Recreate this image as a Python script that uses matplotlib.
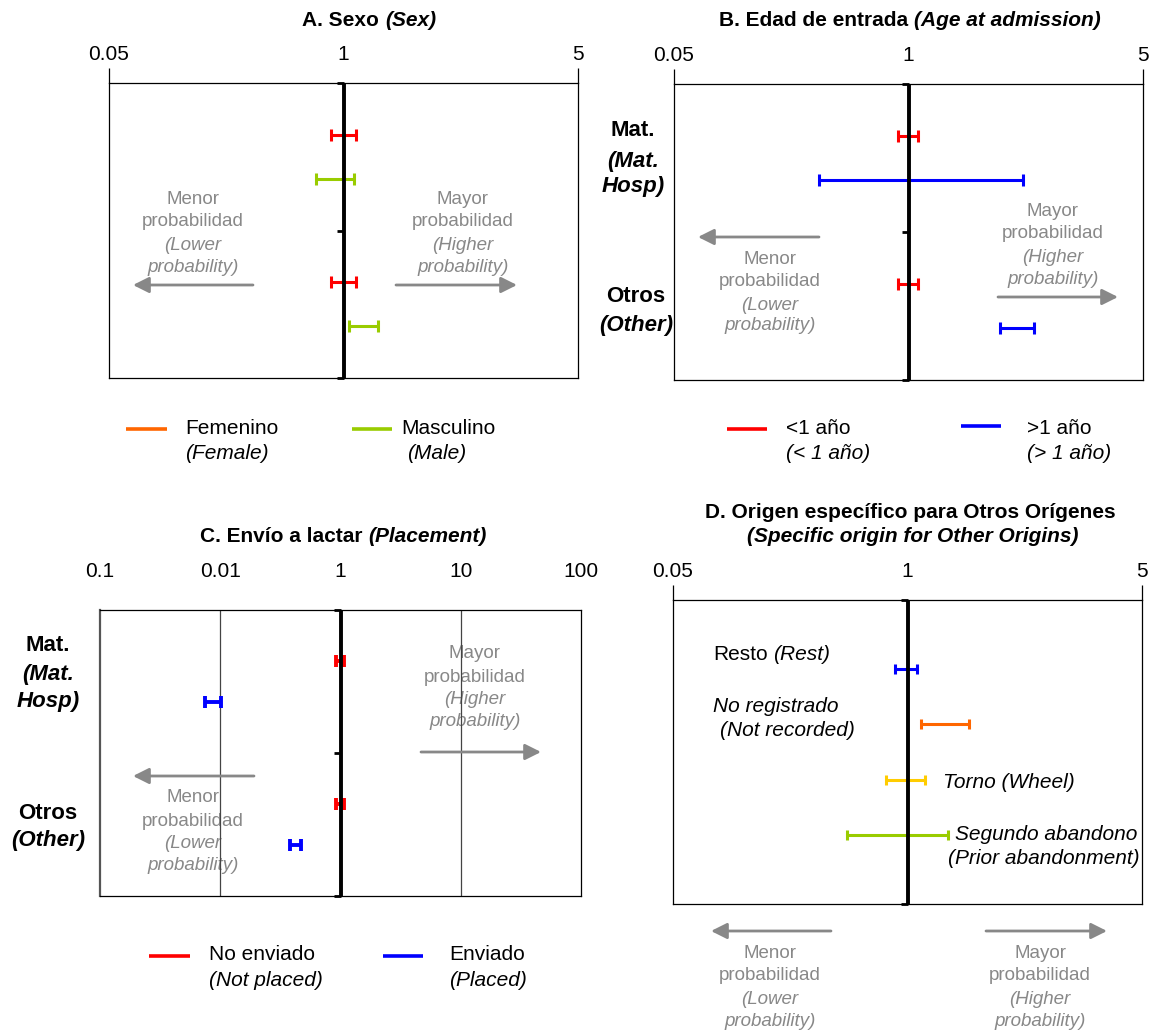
import numpy as np
import matplotlib
matplotlib.use('Agg')
import matplotlib.pyplot as plt
from matplotlib.lines import Line2D
from matplotlib.patches import FancyArrowPatch

plt.rcParams['font.family'] = ['Liberation Sans', 'DejaVu Sans']

# ---- data (odds ratio and 95% CI) ----
# A. Sexo: rows Mat. / Otros
fem_y = [0.35, 1.35]
fem_lo = [0.92, 0.92]
fem_or = [1.00, 1.00]
fem_hi = [1.09, 1.09]
masc_y = [0.65, 1.65]
masc_lo = [0.83, 1.04]
masc_or = [0.95, 1.14]
masc_hi = [1.075, 1.27]

# B. Edad de entrada
lt1_y = [0.35, 1.35]
lt1_lo = [0.93, 0.93]
lt1_or = [1.00, 1.00]
lt1_hi = [1.07, 1.07]
gt1_y = [0.65, 1.65]
gt1_lo = [0.54, 1.87]
gt1_or = [1.09, 2.11]
gt1_hi = [2.19, 2.37]

# C. Envio a lactar
noenv_y = [0.36, 1.36]
noenv_lo = [0.91, 0.91]
noenv_or = [0.98, 0.98]
noenv_hi = [1.06, 1.06]
env_y = [0.64, 1.64]
env_lo = [0.075, 0.38]
env_or = [0.088, 0.43]
env_hi = [0.102, 0.47]

# D. Origen especifico
orig_y = [1.25, 2.25, 3.25, 4.25]
orig_lo = [0.92, 1.10, 0.86, 0.66]
orig_or = [0.99, 1.30, 0.985, 0.93]
orig_hi = [1.07, 1.53, 1.13, 1.32]
orig_col = ['#0000ff', '#ff6600', '#ffcc00', '#99cc00']

# axis ticks / labels as printed on the chart
ticks_abd = [0.2, 1, 5]
labels_abd = ['0.05', '1', '5']
ticks_c = [0.01, 0.1, 1, 10, 100]
labels_c = ['0.1', '0.01', '1', '10', '100']
grid_c = [0.1, 10]

GRAY = '#888888'
W, H = 1149, 1030

fig = plt.figure(figsize=(W / 100, H / 100), dpi=100)
rend = fig.canvas.get_renderer()


def fx(x):
    return x / W


def fy(y):
    return 1 - y / H


def box(x0, y0, x1, y1):
    return [fx(x0), fy(y1), (x1 - x0) / W, (y1 - y0) / H]


def setup(ax, xlim, ticks, labels, ylim, tlen, pad, ymarks, hide_mid=True):
    ax.set_xscale('log')
    ax.set_xlim(xlim)
    ax.set_ylim(ylim)
    ax.xaxis.tick_top()
    ax.set_xticks(ticks)
    ax.set_xticklabels(labels)
    ax.minorticks_off()
    ax.tick_params(axis='x', length=tlen, width=0.9, pad=pad, labelsize=15,
                   direction='out')
    ax.set_yticks([])
    for sp in ax.spines.values():
        sp.set_linewidth(0.9)
    if hide_mid:
        ax.xaxis.get_major_ticks()[1].tick2line.set_visible(False)
    ax.axvline(1, color='black', lw=2.8, zorder=3)
    ax.plot([1] * len(ymarks), ymarks, ls='none', marker=0, ms=5, mew=2,
            color='black', zorder=3, clip_on=False)


def ci(ax, y, lo, c, hi, color, lw=2.2, cap=4):
    lo, c, hi = np.asarray(lo), np.asarray(c), np.asarray(hi)
    ax.errorbar(c, y, xerr=[c - lo, hi - c], fmt='none', ecolor=color,
                elinewidth=lw, capsize=cap, capthick=lw, zorder=2)


def stack(x, ys, items, target=None, color=GRAY, size=13.5, ha='center',
          weight='normal'):
    tgt = fig if target is None else target
    for y, (s, st) in zip(ys, items):
        tgt.text(fx(x), fy(y), s, transform=fig.transFigure, ha=ha,
                 va='center_baseline', fontsize=size, style=st, color=color,
                 weight=weight, zorder=1.5)


def mixed(x, y, parts, size=15, weight='normal', ha='center', color='black'):
    gap = 0.278 * size * 100 / 72
    txts, ws = [], []
    for s, st in parts:
        t = fig.text(0, fy(y), s, fontsize=size, style=st, weight=weight,
                     color=color, ha='left', va='center_baseline')
        ws.append(t.get_window_extent(rend).width)
        txts.append(t)
    total = sum(ws) + gap * (len(parts) - 1)
    x0 = x - total / 2 if ha == 'center' else x
    for t, w in zip(txts, ws):
        t.set_x(fx(x0))
        x0 += w + gap


def arrow(x0, y0, x1, y1):
    fig.add_artist(FancyArrowPatch((fx(x0), fy(y0)), (fx(x1), fy(y1)),
                                   transform=fig.transFigure,
                                   arrowstyle='-|>,head_length=0.8,head_width=0.4',
                                   mutation_scale=12, lw=2, color=GRAY,
                                   shrinkA=0, shrinkB=0))


def key(x0, x1, y, color):
    fig.add_artist(Line2D([fx(x0), fx(x1)], [fy(y), fy(y)],
                          transform=fig.transFigure, color=color, lw=2.6,
                          solid_capstyle='butt'))


menor = [('Menor', 'normal'), ('probabilidad', 'normal'),
         ('(Lower', 'italic'), ('probability)', 'italic')]
mayor = [('Mayor', 'normal'), ('probabilidad', 'normal'),
         ('(Higher', 'italic'), ('probability)', 'italic')]
mat_lab = [('Mat.', 'normal'), ('(Mat.', 'italic'), ('Hosp)', 'italic')]
otr_lab = [('Otros', 'normal'), ('(Other)', 'italic')]

# ---- A ----
axA = fig.add_axes(box(109, 83, 578, 378))
setup(axA, (0.2, 5), ticks_abd, labels_abd, (2, 0), 10.5, 3, [0, 1, 2])
ci(axA, fem_y, fem_lo, fem_or, fem_hi, '#ff0000')
ci(axA, masc_y, masc_lo, masc_or, masc_hi, '#99cc00')
mixed(369, 19, [('A. Sexo', 'normal'), ('(Sex)', 'italic')], weight='bold')
stack(193, [197, 220, 243, 265], menor)
stack(463, [197, 220, 243, 265], mayor)
arrow(253, 285, 133, 285)
arrow(396, 285, 517, 285)
key(126, 167, 429, '#ff6600')
stack(185, [426, 451], [('Femenino', 'normal'), ('(Female)', 'italic')],
      color='black', size=15, ha='left')
key(352, 392, 429, '#99cc00')
stack(401, [426], [('Masculino', 'normal')], color='black', size=15, ha='left')
stack(407, [451], [('(Male)', 'italic')], color='black', size=15, ha='left')

# ---- B ----
axB = fig.add_axes(box(674, 84, 1143, 380))
setup(axB, (0.2, 5), ticks_abd, labels_abd, (2, 0), 10.5, 3, [0, 1, 2])
ci(axB, lt1_y, lt1_lo, lt1_or, lt1_hi, '#ff0000')
ci(axB, gt1_y, gt1_lo, gt1_or, gt1_hi, '#0000ff')
mixed(910, 19, [('B. Edad de entrada', 'normal'), ('(Age at admission)', 'italic')],
      weight='bold')
stack(633, [128, 159, 184], mat_lab, color='black', size=16, weight='bold')
stack(636, [294, 323], otr_lab, color='black', size=16, weight='bold')
stack(770, [257, 279, 303, 324], menor)
stack(1053, [209, 231, 255, 277], mayor)
arrow(819, 237, 698, 237)
arrow(998, 297, 1118, 297)
key(727, 767, 429, '#ff0000')
stack(786, [426, 451], [('<1 año', 'normal'), ('(< 1 año)', 'italic')],
      color='black', size=15, ha='left')
key(961, 1001, 426, '#0000ff')
stack(1027, [426, 451], [('>1 año', 'normal'), ('(> 1 año)', 'italic')],
      color='black', size=15, ha='left')

# ---- C ----
axC = fig.add_axes(box(100, 610, 581, 896))
setup(axC, (0.01, 100), ticks_c, labels_c, (2, 0), 0, 21, [0, 1, 2],
      hide_mid=False)
axC.spines['left'].set_color('#555555')
axC.spines['left'].set_linewidth(1.6)
for g in grid_c:
    axC.axvline(g, color='#444444', lw=0.9, zorder=2)
ci(axC, noenv_y, noenv_lo, noenv_or, noenv_hi, '#ff0000', lw=2.8, cap=4.5)
ci(axC, env_y, env_lo, env_or, env_hi, '#0000ff', lw=2.8, cap=4.5)
mixed(343, 534, [('C. Envío a lactar', 'normal'), ('(Placement)', 'italic')],
      weight='bold')
stack(48, [643, 672, 699], mat_lab, color='black', size=16, weight='bold')
stack(48, [811, 838], otr_lab, color='black', size=16, weight='bold')
stack(475, [652, 675, 698, 720], mayor, target=axC)
stack(193, [796, 819, 842, 864], menor, target=axC)
arrow(421, 752, 541, 752)
arrow(254, 776, 133, 776)
key(149, 190, 956, '#ff0000')
stack(209, [953, 978], [('No enviado', 'normal'), ('(Not placed)', 'italic')],
      color='black', size=15, ha='left')
key(383, 423, 956, '#0000ff')
stack(449, [953, 978], [('Enviado', 'normal'), ('(Placed)', 'italic')],
      color='black', size=15, ha='left')

# ---- D ----
axD = fig.add_axes(box(673, 600, 1142, 904))
setup(axD, (0.2, 5), ticks_abd, labels_abd, (5.5, 0), 10.8, 3, [0, 5.5])
for y, lo, c, hi, col in zip(orig_y, orig_lo, orig_or, orig_hi, orig_col):
    ci(axD, [y], [lo], [c], [hi], col, lw=2.2, cap=3.8)
stack(910, [511], [('D. Origen específico para Otros Orígenes', 'normal')],
      color='black', size=15, weight='bold')
stack(913, [535], [('(Specific origin for Other Origins)', 'italic')],
      color='black', size=15, weight='bold')
mixed(713, 653, [('Resto', 'normal'), ('(Rest)', 'italic')], ha='left')
stack(713, [704], [('No registrado', 'italic')], color='black', size=15, ha='left')
stack(720, [729], [('(Not recorded)', 'italic')], color='black', size=15, ha='left')
stack(943, [780], [('Torno (Wheel)', 'italic')], color='black', size=15, ha='left')
stack(955, [832], [('Segundo abandono', 'italic')], color='black', size=15, ha='left')
stack(948, [856], [('(Prior abandonment)', 'italic')], color='black', size=15,
      ha='left')
arrow(831, 931, 711, 931)
arrow(986, 931, 1107, 931)
stack(770, [952, 974, 997, 1020], menor)
stack(1040, [952, 974, 997, 1020], mayor)

fig.savefig('out.png', dpi=100)
